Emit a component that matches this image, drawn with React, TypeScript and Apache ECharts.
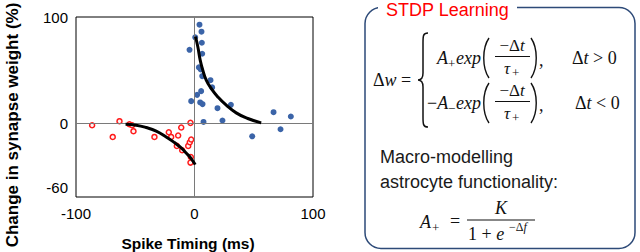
import React, { useEffect, useRef } from "react";
import * as echarts from "echarts";

// ---- data ----
const potentiationPoints: [number, number][] = [
  [4.2, 92.8], [5.9, 86.2], [0.6, 80.9], [6.2, 75.8], [-4.2, 69.2], [6.5, 65.5],
  [3.7, 52.7], [5.3, 50.8], [6.5, 44.5], [13.5, 40.7], [14.9, 33.9], [5.6, 30.4],
  [2.2, 26.9], [-2.8, 21.0], [4.8, 19.8], [6.8, 18.2], [19.4, 14.4], [30.7, 17.5],
  [7.6, 1.5], [23.6, 2.8], [48.7, -12.0], [66.7, 10.6], [72.6, -5.4], [81.3, 6.6],
];
const depressionPoints: [number, number][] = [
  [-86.4, -1.6], [-69.0, -12.6], [-63.3, 2.2], [-54.9, -0.7], [-52.6, -1.6], [-51.5, -7.2],
  [-33.8, -12.6], [-21.7, -8.2], [-19.7, -12.6], [-13.8, -11.3], [-11.2, -3.8], [-14.9, -21.0],
  [-10.4, -25.1], [-5.3, -21.0], [-4.0, -17.6], [-2.8, -15.0], [-3.4, 0.6], [-3.1, -31.4],
  [-3.4, -36.7],
];
const potentiationFit: [number, number][] = [
  [0.8, 81.5], [2.8, 72.1], [4.8, 59.5], [7.0, 50.1], [9.9, 40.7], [14.1, 32.9],
  [19.7, 25.0], [26.8, 17.2], [35.2, 10.0], [45.0, 4.7], [56.3, 0.6],
];
const depressionFit: [number, number][] = [
  [-58.2, -0.7], [-49.2, -1.6], [-40.8, -3.8], [-32.3, -7.2], [-23.9, -12.6],
  [-16.9, -17.9], [-11.2, -22.9], [-7.0, -27.7], [-2.8, -32.9], [0.6, -38.6],
];
const xTicks = [-100, 0, 100];
const yTickLabels = [-60, 0, 100];
const xRange = [-100, 100];
const yRange = [-69, 100];

const SANS = '"Liberation Sans", Arial, Helvetica, sans-serif';
const SERIF = '"Liberation Serif", "Times New Roman", serif';
const INK = "#111111";

echarts.graphic.registerShape(
  "brace",
  echarts.graphic.extendPath(
    "M10,0 C5,0 5,3 5,10 L5,40 C5,45 3,47 0,47 C3,47 5,49 5,54 L5,84 C5,91 5,94 10,94",
    {}
  )
);

const mathRich = (size: number) => ({
  u: { font: `${size}px ${SERIF}`, fill: INK },
  i: { font: `italic ${size}px ${SERIF}`, fill: INK },
});

const txt = (x: number, y: number, text: string, size: number, align = "left", extra: any = {}) => ({
  type: "text",
  x,
  y,
  z: 10,
  style: {
    text,
    rich: mathRich(size),
    font: `${size}px ${SERIF}`,
    fill: INK,
    align,
    verticalAlign: "middle",
    ...extra,
  },
});

const paren = (x: number, y: number, h: number, left: boolean) => ({
  type: "bezierCurve",
  z: 10,
  shape: left
    ? { x1: x + 6, y1: y, x2: x + 6, y2: y + h, cpx1: x - 1, cpy1: y + h * 0.25, cpx2: x - 1, cpy2: y + h * 0.75 }
    : { x1: x, y1: y, x2: x, y2: y + h, cpx1: x + 7, cpy1: y + h * 0.25, cpx2: x + 7, cpy2: y + h * 0.75 },
  style: { stroke: INK, lineWidth: 1.4, fill: "none" },
});

const hline = (x1: number, x2: number, y: number) => ({
  type: "line",
  z: 10,
  shape: { x1, y1: y, x2, y2: y },
  style: { stroke: INK, lineWidth: 1 },
});

function formulaRow(dy: number, negative: boolean) {
  const y = 58 + dy;
  const els: any[] = [];
  if (negative) {
    els.push(txt(427, y, "{u|−}{i|A}", 18));
    els.push(txt(448, y + 5, "−", 13));
  } else {
    els.push(txt(437, y, "{i|A}", 18));
    els.push(txt(448, y + 5, "+", 13));
  }
  els.push(txt(456, y, "{i|exp}", 18));
  els.push(paren(483, y - 20, 40, true));
  els.push(txt(512, y - 13, "{u|−Δ}{i|t}", 17, "center"));
  els.push(hline(495, 530, y - 1.5));
  els.push(txt(507, y + 10, "{i|τ}", 17, "center"));
  els.push(txt(512, y + 14, "+", 13));
  els.push(paren(531, y - 20, 40, false));
  els.push(txt(539, y + 2, ",", 18));
  els.push(txt(negative ? 575 : 572, y, negative ? "{u|Δ}{i|t}{u| < 0}" : "{u|Δ}{i|t}{u| > 0}", 18));
  return els;
}

export default function App() {
  const ref = useRef<HTMLDivElement>(null);
  useEffect(() => {
    if (!ref.current) return;
    const chart = echarts.init(ref.current, null, { renderer: "svg" });
    const option: any = {
      animation: false,
      backgroundColor: "#ffffff",
      grid: {
        left: 76,
        top: 17,
        width: 237,
        height: 180,
        show: true,
        borderColor: "#000",
        borderWidth: 1,
        backgroundColor: "transparent",
        outerBoundsMode: "none",
        containLabel: false,
      },
      xAxis: {
        type: "value",
        min: xRange[0],
        max: xRange[1],
        interval: 100,
        axisLine: { show: false },
        axisTick: { show: false },
        splitLine: { show: false },
        axisLabel: {
          color: "#000",
          fontSize: 15,
          fontFamily: SANS,
          margin: 9,
          showMinLabel: true,
          showMaxLabel: true,
          customValues: xTicks,
        },
      },
      yAxis: {
        type: "value",
        min: yRange[0],
        max: yRange[1],
        axisLine: { show: false },
        axisTick: { show: false },
        splitLine: { show: false },
        axisLabel: {
          color: "#000",
          fontSize: 15,
          fontFamily: SANS,
          margin: 8,
          customValues: yTickLabels,
        },
      },
      series: [
        {
          type: "line",
          data: depressionFit,
          smooth: true,
          showSymbol: false,
          symbol: "none",
          lineStyle: { color: "#000", width: 3 },
          z: 5,
          markLine: {
            silent: true,
            symbol: "none",
            label: { show: false },
            lineStyle: { color: "#7a7a7a", width: 1, type: "solid" },
            data: [{ xAxis: 0 }, { yAxis: 0 }],
          },
        },
        {
          type: "line",
          data: potentiationFit,
          smooth: true,
          showSymbol: false,
          symbol: "none",
          lineStyle: { color: "#000", width: 3 },
          z: 5,
        },
        {
          type: "scatter",
          data: potentiationPoints,
          symbol: "circle",
          symbolSize: 6,
          itemStyle: { color: "#3b64a8", opacity: 1 },
          z: 4,
        },
        {
          type: "scatter",
          data: depressionPoints,
          symbol: "circle",
          symbolSize: 5,
          itemStyle: { color: "#fff3f3", borderColor: "#ff1a1a", borderWidth: 1.5, opacity: 1 },
          z: 4,
        },
      ],
      graphic: [
        {
          type: "text",
          x: 12,
          y: 125,
          rotation: Math.PI / 2,
          style: {
            text: "Change in synapse weight (%)",
            font: `bold 17px ${SANS}`,
            fill: "#000",
            align: "center",
            verticalAlign: "middle",
          },
        },
        {
          type: "text",
          x: 188,
          y: 243,
          style: {
            text: "Spike Timing (ms)",
            font: `bold 15.5px ${SANS}`,
            fill: "#000",
            align: "center",
            verticalAlign: "middle",
          },
        },
        // panel box
        {
          type: "rect",
          z: 5,
          shape: { x: 365, y: 7.5, width: 270, height: 241, r: 16 },
          style: { fill: "none", stroke: "#2d4a78", lineWidth: 1.5 },
        },
        {
          type: "rect",
          z: 6,
          shape: { x: 378, y: 2, width: 139, height: 12 },
          style: { fill: "#ffffff", stroke: "none" },
        },
        {
          type: "text",
          x: 386,
          y: 10,
          z: 7,
          style: {
            text: "STDP Learning",
            font: `18px ${SANS}`,
            fill: "#ff0000",
            align: "left",
            verticalAlign: "middle",
          },
        },
        txt(373, 80, "{u|Δ}{i|w}{u| =}", 18),
        {
          type: "brace",
          x: 418,
          y: 33,
          z: 10,
          style: { fill: "none", stroke: INK, lineWidth: 1.5 },
        },
        ...formulaRow(0, false),
        ...formulaRow(45, true),
        {
          type: "text",
          x: 380,
          y: 157,
          style: { text: "Macro-modelling", font: `18px ${SANS}`, fill: "#1a1a1a", align: "left", verticalAlign: "middle" },
        },
        {
          type: "text",
          x: 380,
          y: 182,
          style: { text: "astrocyte functionality:", font: `18px ${SANS}`, fill: "#1a1a1a", align: "left", verticalAlign: "middle" },
        },
        txt(420, 222, "{i|A}", 18),
        txt(432, 227, "+", 13),
        txt(450, 221, "=", 18),
        txt(501, 208, "{i|K}", 18, "center"),
        hline(467, 535, 220),
        txt(468, 234, "{u|1 + }{i|e}", 18),
        txt(509, 227, "{u|−Δ}{i|f}", 12),
      ],
    };
    chart.setOption(option);
    return () => chart.dispose();
  }, []);
  return (
    <div
      ref={ref}
      style={{ position: "fixed", left: 0, top: 0, width: 640, height: 252, background: "#fff" }}
    />
  );
}
